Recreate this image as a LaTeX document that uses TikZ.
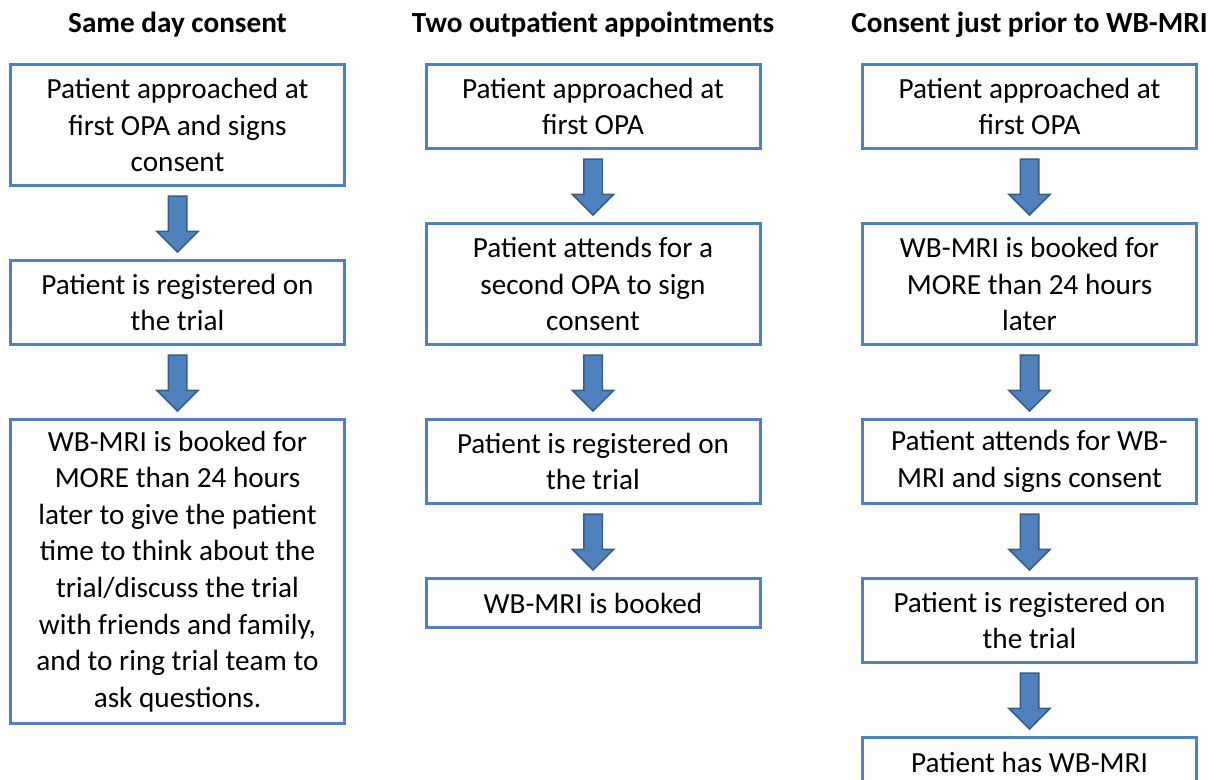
\documentclass[tikz,border=0pt]{standalone}
\usepackage{fontspec}
\setmainfont{Carlito}
\usetikzlibrary{
	positioning		% below=of placement
	, shapes.arrows	% block arrows between the steps
}
\definecolor{boxblue}{HTML}{4F81BD}
\definecolor{arrowedge}{HTML}{385D8A}

\begin{document}
\begin{tikzpicture}[
			stage/.style={
				rectangle,
				draw=boxblue, line width=1.5pt,
				minimum width=167pt,
				inner sep=0pt,
				align=center,
				font=\fontsize{14.6}{18.3}\selectfont
			},
			oneline/.style={minimum height=24.5pt},
			twolines/.style={minimum height=42pt},
			threelines/.style={minimum height=60.5pt},
			eightlines/.style={minimum height=152pt},
			downarrow/.style={
				single arrow,
				rotate=-90,
				pos=0.45,
				fill=boxblue, draw=arrowedge, line width=0.75pt,
				inner xsep=0pt, inner ysep=4.25pt,
				single arrow head extend=5.75pt,
				minimum height=28pt
			},
			heading/.style={
				font=\fontsize{14.6}{16}\selectfont\bfseries
			},
			node distance=36pt]

			\useasboundingbox (0,0) rectangle (608pt,-390pt);

			%%% Column headings
			\node [heading] (headsame) at (88.75pt,-12.5pt) {Same day consent};
			\node [heading] (headtwo) at (296.5pt,-12.5pt) {Two outpatient appointments};
			\node [heading] (headprior) at (514.75pt,-12.5pt) {Consent just prior to WB-MRI};

			%%% Same day consent
			\node [stage, threelines, anchor=north] (same1) at (88.75pt,-31.5pt) {Patient approached at\\first OPA and signs\\consent};
			\node [stage, twolines, below=of same1] (same2) {Patient is registered on\\the trial};
			\node [stage, eightlines, below=of same2] (same3) {WB-MRI is booked for\\MORE than 24 hours\\later to give the patient\\time to think about the\\trial/discuss the trial\\with friends and family,\\and to ring trial team to\\ask questions.};

			%%% Two outpatient appointments
			\node [stage, twolines, anchor=north] (two1) at (296.5pt,-31.5pt) {Patient approached at\\first OPA};
			\node [stage, threelines, below=of two1] (two2) {Patient attends for a\\second OPA to sign\\consent};
			\node [stage, twolines, below=of two2] (two3) {Patient is registered on\\the trial};
			\node [stage, oneline, below=of two3] (two4) {WB-MRI is booked};

			%%% Consent just prior to WB-MRI
			\node [stage, twolines, anchor=north] (prior1) at (514.75pt,-31.5pt) {Patient approached at\\first OPA};
			\node [stage, threelines, below=of prior1] (prior2) {WB-MRI is booked for\\MORE than 24 hours\\later};
			\node [stage, twolines, below=of prior2] (prior3) {Patient attends for WB-\\MRI and signs consent};
			\node [stage, twolines, below=of prior3] (prior4) {Patient is registered on\\the trial};
			\node [stage, oneline, below=of prior4] (prior5) {Patient has WB-MRI};

			% Block arrows between consecutive steps
			\path (same1) -- node [downarrow] {} (same2);
			\path (same2) -- node [downarrow] {} (same3);
			\path (two1) -- node [downarrow] {} (two2);
			\path (two2) -- node [downarrow] {} (two3);
			\path (two3) -- node [downarrow] {} (two4);
			\path (prior1) -- node [downarrow] {} (prior2);
			\path (prior2) -- node [downarrow] {} (prior3);
			\path (prior3) -- node [downarrow] {} (prior4);
			\path (prior4) -- node [downarrow] {} (prior5);

		\end{tikzpicture}
\end{document}
